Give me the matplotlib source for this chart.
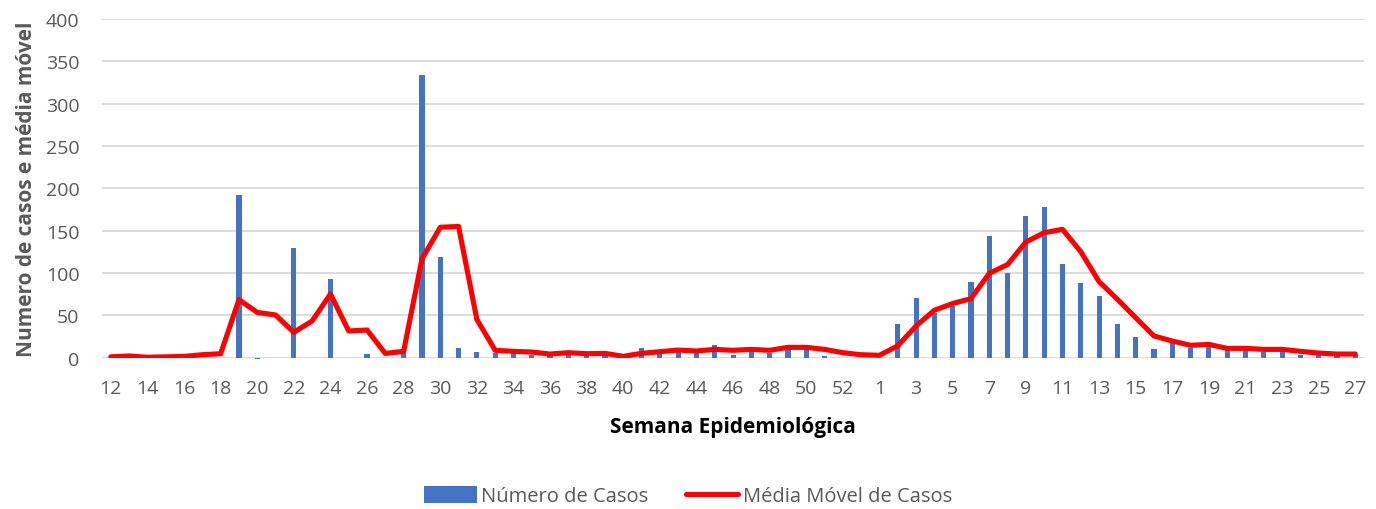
import numpy as np
import matplotlib.pyplot as plt

plt.rcParams['font.family'] = ['Open Sans', 'DejaVu Sans']

# semanas epidemiológicas: 12..53 (2020) e 1..27 (2021)
semanas = list(range(12, 54)) + list(range(1, 28))

casos = [0, 0, 0, 0, 0, 0, 0, 192, -2, 0,      # 12-21
         130, 0, 93, 0, 4, 0, 6, 334, 119, 11,  # 22-31
         7, 6, 5, 3, 3, 8, 4, 4, 1, 11,         # 32-41
         6, 8, 5, 15, 3, 8, 6, 12, 12, 2,       # 42-51
         0, 0,                                  # 52-53
         0, 40, 71, 53, 61, 89, 144, 100, 167, 178,  # 1-10
         111, 88, 73, 40, 25, 10, 18, 12, 14, 9,     # 11-20
         9, 7, 8, 3, 4, 2, 3]                        # 21-27

media = [1, 2, 0.5, 1, 1.5, 3.5, 4.7, 68.5, 53.5, 50.4,
         30, 43.3, 75.2, 31.5, 32.7, 5, 7.5, 116.5, 154, 155,
         45.2, 8.7, 7.5, 6.7, 4.3, 5.9, 4.7, 5.1, 1.6, 5.1,
         7.1, 9, 7.9, 9.8, 8.7, 9.8, 8.7, 12.2, 12.2, 9.8,
         5.9, 3.5,
         2.8, 14, 37.4, 56, 64, 69.7, 99.6, 110, 136.6, 147.6,
         151.6, 125.2, 89.8, 69, 47.2, 25.6, 19.7, 14.6, 15.7, 11,
         11, 9.8, 9.8, 7.5, 5.5, 4.3, 4.3]

x = np.arange(len(semanas))

fig = plt.figure(figsize=(13.76, 5.10), dpi=100)
ax = fig.add_axes([0.0739, 0.2967, 0.9177, 0.6641])

barras = ax.bar(x, casos, width=0.28, color='#4472c4', label='Número de Casos',
                zorder=2, clip_on=False)
linha, = ax.plot(x, media, color='#ff0000', lw=3.7, solid_capstyle='round',
                 solid_joinstyle='round', label='Média Móvel de Casos', zorder=3)

ax.set_xlim(-0.5, len(semanas) - 0.5)
ax.set_ylim(0, 400)
ax.set_yticks(np.arange(0, 401, 50))
ax.set_xticks(x[::2])
ax.set_xticklabels([str(s) for s in semanas[::2]])
ax.grid(axis='y', color='#d9d9d9', lw=1.3, zorder=0)
ax.set_axisbelow(True)
for s in ax.spines.values():
    s.set_visible(False)
ax.tick_params(length=0, labelsize=14, labelcolor='#595959')
ax.tick_params(axis='x', pad=15)
ax.tick_params(axis='y', pad=16)

ax.set_xlabel('Semana Epidemiológica', fontsize=15, fontweight='bold',
              color='black', labelpad=14)
ax.set_ylabel('Numero de casos e média móvel', fontsize=15,
              fontweight='bold', color='#595959', labelpad=6)

leg = fig.legend([barras, linha], ['Número de Casos', 'Média Móvel de Casos'],
                 loc='center', bbox_to_anchor=(0.5, 0.025), ncol=2,
                 frameon=False, fontsize=14.5, handlelength=2.6,
                 handleheight=0.9, columnspacing=1.9, handletextpad=0.2)
for t in leg.get_texts():
    t.set_color('#595959')

fig.savefig('out.png', dpi=100)
